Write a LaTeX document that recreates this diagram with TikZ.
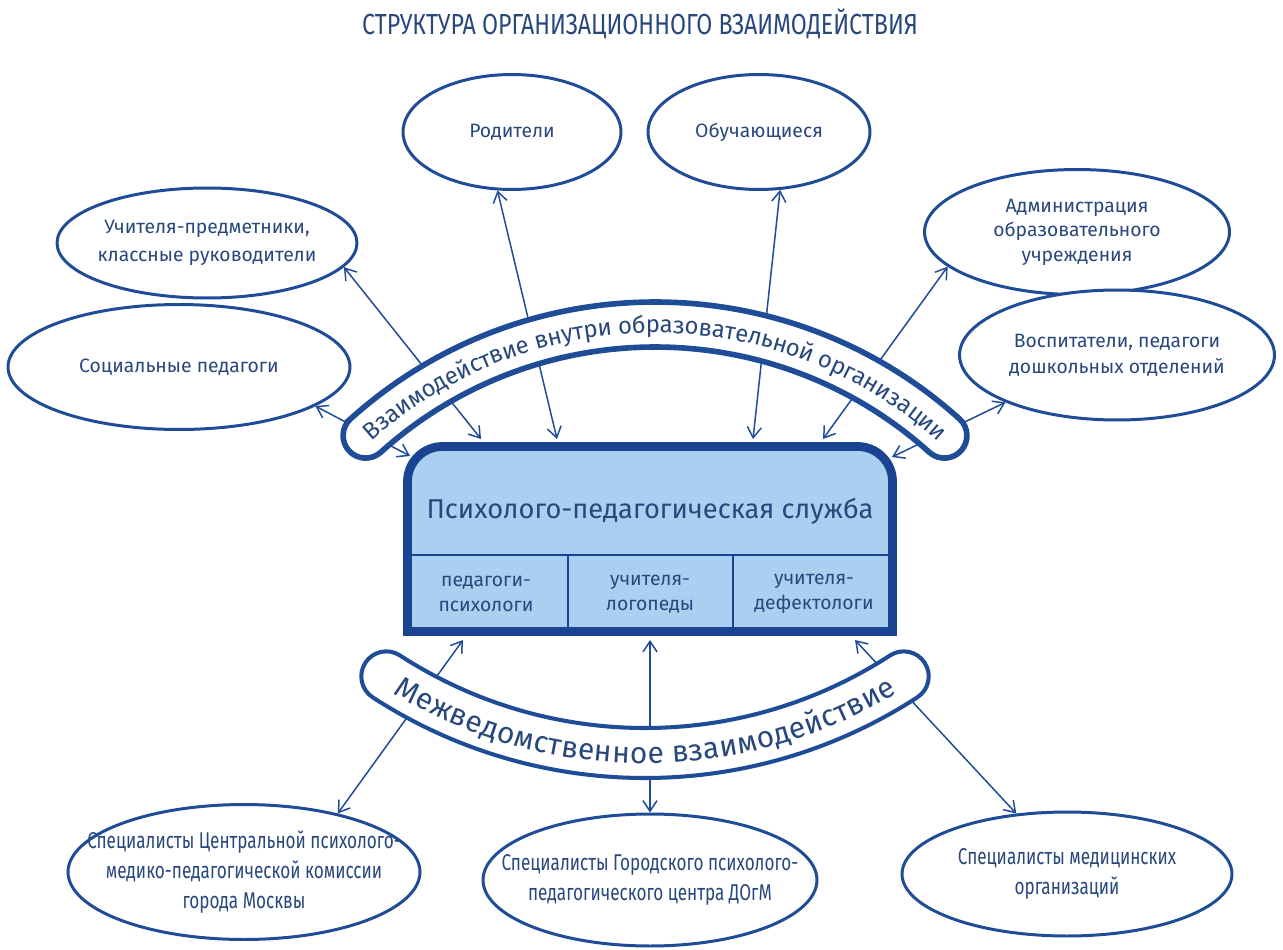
\documentclass[tikz,border=0pt]{standalone}
\usepackage{fontspec}
\setmainfont{Fira Sans}
\newfontfamily\condfont[FakeStretch=0.75]{Fira Sans}
\newfontfamily\titlefont[FakeStretch=0.8]{Fira Sans}
\usetikzlibrary{shapes.geometric,arrows.meta,decorations.text,calc}
\definecolor{lineblue}{HTML}{1F4C96}
\definecolor{boxblue}{HTML}{1A4391}
\definecolor{txtblue}{HTML}{28487D}
\definecolor{fillblue}{HTML}{AACFF0}
\begin{document}
\begin{tikzpicture}[x=0.02cm,y=-0.02cm,
  ell/.style={ellipse, draw=lineblue, line width=1.7pt, fill=white, inner sep=0pt},
  etext/.style={text=txtblue, align=center, font=\fontsize{11}{16}\selectfont},
  ctext/.style={text=txtblue, align=center, font=\condfont\fontsize{13}{17}\selectfont},
  arr/.style={draw=lineblue, line width=0.85pt, {Straight Barb[length=6pt,width=8pt]}-{Straight Barb[length=6pt,width=8pt]}},
  band/.style={draw=lineblue, fill=white, line width=3.2pt},
  bandlow/.style={draw=lineblue, fill=white, line width=2.3pt},
  boxline/.style={draw=boxblue, fill=fillblue, line width=5pt},
  divline/.style={draw=boxblue, line width=1.1pt}
]
\useasboundingbox (0,0) rectangle (1283,949);
\fill[white] (0,0) rectangle (1283,949);

% title
\node[text=txtblue, font=\titlefont\fontsize{16.5}{16.5}\selectfont] (title) at (640,24) {СТРУКТУРА ОРГАНИЗАЦИОННОГО ВЗАИМОДЕЙСТВИЯ};

% ellipses
\node[ell, minimum width=4.36cm, minimum height=2.3cm] (rod) at (512,132) {};
\node[etext] (rodt) at (rod) {Родители};
\node[ell, minimum width=4.44cm, minimum height=2.3cm] (obu) at (759,132) {};
\node[etext] (obut) at (obu) {Обучающиеся};
\node[ell, minimum width=6.0cm, minimum height=2.2cm] (uch) at (207,243) {};
\node[etext] (ucht) at (uch) {Учителя-предметники,\\классные руководители};
\node[ell, minimum width=6.1cm, minimum height=2.5cm] (adm) at (1077,232) {};
\node[etext, font=\fontsize{11}{14}\selectfont] (admt) at (adm) {Администрация\\образовательного\\учреждения};
\node[ell, minimum width=6.84cm, minimum height=2.5cm] (soc) at (179,367) {};
\node[etext] (soct) at (soc) {Социальные педагоги};
\node[ell, minimum width=6.3cm, minimum height=2.6cm] (vos) at (1117,355) {};
\node[etext, font=\fontsize{11}{15}\selectfont] (vost) at (vos) {Воспитатели, педагоги\\дошкольных отделений};

\node[ell, minimum width=7.04cm, minimum height=2.7cm] (bl) at (244,872) {};
\node[ctext] (blt) at (bl) {Специалисты Центральной психолого-\\медико-педагогической комиссии\\города Москвы};
\node[ell, minimum width=6.68cm, minimum height=2.64cm] (bm) at (650,880) {};
\node[ctext] (bmt) at (bm) {Специалисты Городского психолого-\\педагогического центра ДОгМ};
\node[ell, minimum width=6.6cm, minimum height=2.48cm] (br) at (1067,874) {};
\node[ctext] (brt) at (br) {Специалисты медицинских\\организаций};

% box anchor node
\node[minimum width=9.88cm, minimum height=3.88cm, inner sep=0pt] (box) at (650,539) {};

% arrow end coordinates on the box
\coordinate (e1) at (481,439);
\coordinate (e2) at (557,439);
\coordinate (e3) at (753,439);
\coordinate (e4) at (823,439);
\coordinate (e5) at (410,456);
\coordinate (e6) at (892,457);
\coordinate (e7) at (463,640);
\coordinate (e8) at (650,640);
\coordinate (e9) at (855,640);

% connectors
\draw[arr] (uch.350) -- (e1);
\draw[arr] (rod.256) -- (e2);
\draw[arr] (obu.290) -- (e3);
\draw[arr] (adm.195) -- (e4);
\draw[arr] (soc.344) -- (e5);
\draw[arr] (vos.203) -- (e6);
\draw[arr] (e7) -- (bl.32);
\draw[arr] (e8) -- (bm.north);
\draw[arr] (e9) -- (br.130);

% upper band
\coordinate (UC) at (655,757);
\draw[band] ($(UC)+(228:455)$) arc[start angle=228, end angle=312, radius=455]
  arc[start angle=312, end angle=492, radius=22.5]
  arc[start angle=312, end angle=228, radius=410]
  arc[start angle=48, end angle=228, radius=22.5] -- cycle;
\path[decorate, decoration={text along path, text align=center, raise=-4.8pt,
  text={|\fontsize{13.6}{13.6}\selectfont\color{txtblue}|Взаимодействие внутри образовательной организации}}]
  ($(UC)+(226:432.5)$) arc[start angle=226, end angle=314, radius=432.5];

% lower band
\coordinate (LC) at (645,278);
\draw[bandlow] ($(LC)+(123:500)$) arc[start angle=123, end angle=57, radius=500]
  arc[start angle=57, end angle=-123, radius=25]
  arc[start angle=57, end angle=123, radius=450]
  arc[start angle=303, end angle=123, radius=25] -- cycle;
\path[decorate, decoration={text along path, text align=center, raise=-6pt,
  text={|\fontsize{17}{17}\selectfont\color{txtblue}|Межведомственное взаимодействие}}]
  ($(LC)+(123:475)$) arc[start angle=123, end angle=57, radius=475];

% central box
\draw[boxline] (407.5,631.5) -- (407.5,481.5) arc[start angle=180, end angle=270, radius=35]
  -- (857.5,446.5) arc[start angle=270, end angle=360, radius=35] -- (892.5,631.5) -- cycle;
\draw[divline] (410,555) -- (890,555);
\draw[divline] (568,555) -- (568,629);
\draw[divline] (733,555) -- (733,629);
\node[text=txtblue, font=\fontsize{15.5}{18}\selectfont] (boxt) at (650,511) {Психолого-педагогическая служба};
\node[etext, font=\fontsize{11}{14}\selectfont] (s1) at (486,594) {педагоги-\\психологи};
\node[etext, font=\fontsize{11}{14}\selectfont] (s2) at (650,594) {учителя-\\логопеды};
\node[etext, font=\fontsize{11}{14}\selectfont] (s3) at (814,594) {учителя-\\дефектологи};
\end{tikzpicture}
\end{document}
